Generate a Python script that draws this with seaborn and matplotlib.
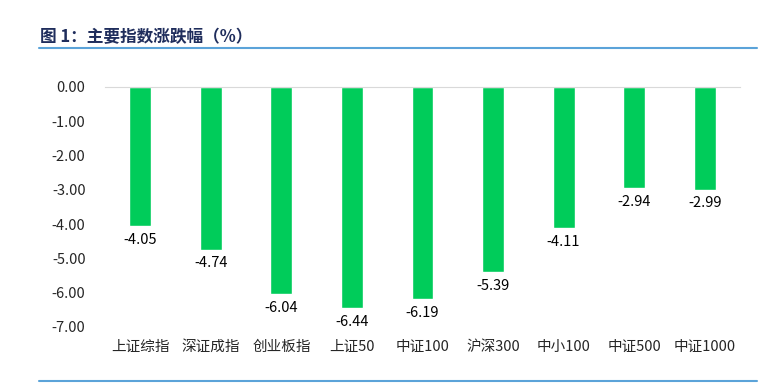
import matplotlib
matplotlib.use("Agg")
import matplotlib.pyplot as plt
import seaborn as sns
import pandas as pd

categories = ["上证综指", "深证成指", "创业板指", "上证50", "中证100", "沪深300", "中小100", "中证500", "中证1000"]
changes = [-4.05, -4.74, -6.04, -6.44, -6.19, -5.39, -4.11, -2.94, -2.99]
yticks = [0, -1, -2, -3, -4, -5, -6, -7]

sns.set_style("white")
plt.rcParams["font.family"] = ["Noto Sans CJK SC", "DejaVu Sans"]
plt.rcParams["axes.unicode_minus"] = False

df = pd.DataFrame({"index": categories, "change": changes})

fig = plt.figure(figsize=(7.67, 3.86), dpi=100)
ax = fig.add_axes([105 / 767, 1 - 327 / 386, 635 / 767, 240 / 386])

sns.barplot(data=df, x="index", y="change", color="#00CC5A", width=0.31,
            saturation=1, ax=ax)

for i, v in enumerate(changes):
    ax.annotate(f"{v:.2f}", (i, v), xytext=(0, -5), textcoords="offset points",
                ha="center", va="top", fontsize=10.5, color="black")

ax.set_ylim(-7, 0)
ax.set_yticks(yticks)
ax.set_yticklabels([f"{t:.2f}".replace("-0.00", "0.00") for t in yticks], fontsize=10.5)
ax.tick_params(axis="x", labelsize=10.5, length=0, pad=9)
ax.tick_params(axis="y", length=0, pad=14)
ax.set_xlabel("")
ax.set_ylabel("")
for s in ["left", "right", "bottom"]:
    ax.spines[s].set_visible(False)
ax.spines["top"].set_color("#D9D9D9")
ax.set_xlim(-0.5, len(categories) - 0.5)

fig.text(40 / 767, 1 - 37 / 386, "图 1：主要指数涨跌幅（%）", fontsize=12, fontweight="bold",
         color="#1F2D5C", va="center", ha="left")
fig.add_artist(plt.Line2D([39 / 767, 757 / 767], [1 - 48 / 386] * 2, color="#5BA3D9", lw=1.5))
fig.add_artist(plt.Line2D([39 / 767, 757 / 767], [1 - 381 / 386] * 2, color="#5BA3D9", lw=1.5))

fig.savefig("out.png", dpi=100)
